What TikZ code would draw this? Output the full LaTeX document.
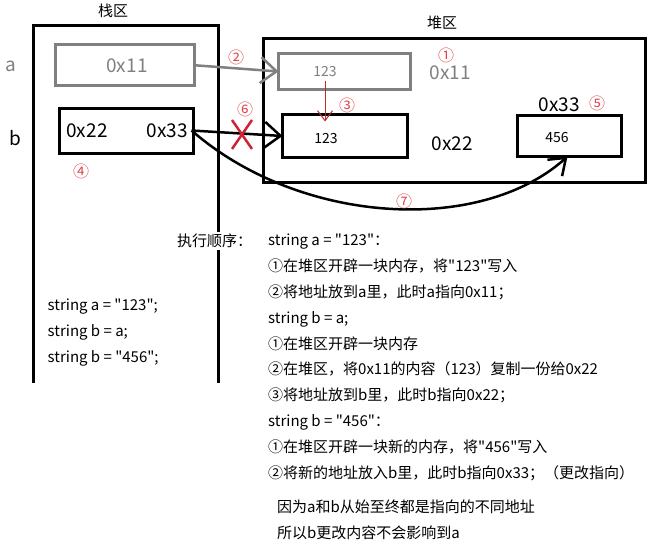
\documentclass[tikz,border=0pt]{standalone}
\usepackage{fontspec}
\setmainfont{Noto Sans CJK SC}[Ligatures=TeXOff]
\usetikzlibrary{positioning,arrows.meta}

\definecolor{boxgray}{RGB}{128,128,128}
\definecolor{numred}{RGB}{225,70,75}
\definecolor{crossred}{RGB}{205,35,55}
\definecolor{arrowred}{RGB}{185,45,45}

\begin{document}
\begin{tikzpicture}[x=1pt,y=-1pt]
\tikzstyle{cell} = [draw, line width=3pt, inner sep=0pt, outer sep=0pt, anchor=north west]
\tikzstyle{addr} = [font=\fontsize{19}{19}\selectfont]
\tikzstyle{val} = [font=\fontsize{14}{14}\selectfont]
\tikzstyle{num} = [text=numred, font=\fontsize{16}{16}\selectfont, inner sep=0pt]
\tikzstyle{line} = [anchor=base west, inner sep=0pt, font=\fontsize{15}{15}\selectfont]
\tikzstyle{ptr} = [line width=2.5pt, -{Straight Barb[length=16pt,width=26pt]}]

\useasboundingbox (0,0) rectangle (651,545);

% stack
\draw[line width=3pt] (33.5,383) -- (33.5,25.5) -- (218.5,25.5) -- (218.5,383);
\node[font=\fontsize{15}{15}\selectfont] (stacktitle) at (113,11) {栈区};

\node[cell, draw=boxgray, minimum width=139, minimum height=41.5] (abox) at (55.5,44.5) {};
\node[addr, text=boxgray] (aval) at (127,65.5) {0x11};
\node[cell, minimum width=133.5, minimum height=45] (bbox) at (59.5,108.5) {};
\node[addr] (bold) at (87,130.5) {0x22};
\node[addr] (bptr) at (167.5,130.5) {0x33};

\node[addr, text=boxgray] (alabel) at (11,66) {a};
\node[addr] (blabel) at (15,138) {b};

% heap
\node[cell, minimum width=382, minimum height=144] (heap) at (263.5,38.5) {};
\node[font=\fontsize{15}{15}\selectfont] (heaptitle) at (442,23) {堆区};

\node[cell, draw=boxgray, minimum width=132, minimum height=36] (gbox) at (278.5,53.5) {};
\node[val, text=boxgray] (gtext) at (325,72) {123};
\node[addr, text=boxgray] (gaddr) at (450,72.5) {0x11};

\node[cell, minimum width=125, minimum height=43] (cbox) at (282.5,114.5) {};
\node[val] (ctext) at (326,138.5) {123};
\node[addr] (caddr) at (452.5,143.5) {0x22};

\node[cell, minimum width=104, minimum height=41] (dbox) at (517.5,115.5) {};
\node[val] (dtext) at (557,137.5) {456};
\node[addr] (daddr) at (559,104.5) {0x33};

% arrows
\draw[ptr, draw=boxgray] (abox.east) -- (gbox.west);
\draw[ptr] (bptr.east) -- (cbox.west);
\draw[ptr, -{Straight Barb[length=15pt,width=22pt]}] (bptr.east) .. controls (300,225) and (480,235) .. ([xshift=-2pt]dbox.south);
\draw[arrowred, line width=1pt, -{Straight Barb[length=10pt,width=15pt]}] (gtext.south) -- ([yshift=-7pt]gtext.south |- cbox.north);
\draw[crossred, line width=2.5pt] (232,120) -- (252,149) (252,120) -- (232,149);

\node[num] (n1) at (446,55) {①};
\node[num] (n2) at (236,57.5) {②};
\node[num] (n3) at (347,105) {③};
\node[num] (n4) at (81,171) {④};
\node[num] (n5) at (597,103) {⑤};
\node[num] (n6) at (245,109) {⑥};
\node[num] (n7) at (404,201) {⑦};

% code
\node[line] (code1) at (47.5,310.5) {string a = "123";};
\node[line] (code2) at (47.5,336.5) {string b = a;};
\node[line] (code3) at (47.5,362.5) {string b = "456";};

% steps
\node[line, fill=white, inner sep=2pt] (order) at (175,246.5) {执行顺序：};
\node[line] (s1) at (268,246) {string a = "123"：};
\node[line] (s2) at (268,271.8) {①在堆区开辟一块内存，将"123"写入};
\node[line] (s3) at (268,297.6) {②将地址放到a里，此时a指向0x11；};
\node[line] (s4) at (268,323.4) {string b = a;};
\node[line] (s5) at (268,349.2) {①在堆区开辟一块内存};
\node[line] (s6) at (268,375) {②在堆区，将0x11的内容（123）复制一份给0x22};
\node[line] (s7) at (268,400.8) {③将地址放到b里，此时b指向0x22；};
\node[line] (s8) at (268,426.6) {string b = "456"：};
\node[line] (s9) at (268,452.4) {①在堆区开辟一块新的内存，将"456"写入};
\node[line] (s10) at (268,478.2) {②将新的地址放入b里，此时b指向0x33；（更改指向）};

\node[line] (note1) at (277,512) {因为a和b从始至终都是指向的不同地址};
\node[line] (note2) at (277,538) {所以b更改内容不会影响到a};
\end{tikzpicture}
\end{document}
